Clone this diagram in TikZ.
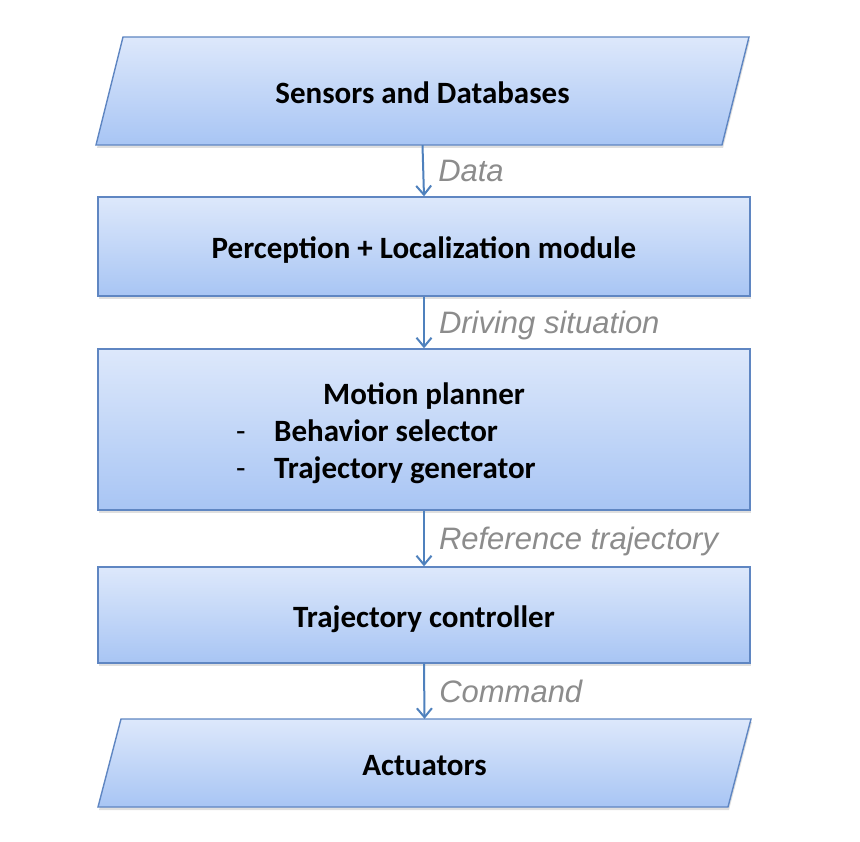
\documentclass[tikz,border=0pt]{standalone}
\usepackage{fontspec}
\setmainfont{Carlito}
\newfontfamily\flowfont{Liberation Sans}
\usetikzlibrary{arrows.meta,shadows}
\definecolor{boxtop}{HTML}{DDE8FB}
\definecolor{boxbot}{HTML}{A8C5F4}
\definecolor{boxline}{HTML}{5F86C2}
\definecolor{flowblue}{HTML}{4F81BD}
\definecolor{flowgray}{HTML}{8C8C8C}
\newcommand{\bigbold}{\fontsize{31}{37}\selectfont\bfseries}
\tikzset{
  boxfill/.style = {draw=boxline,line width=1.4pt,top color=boxtop,bottom color=boxbot,
                    drop shadow={shadow xshift=1pt,shadow yshift=-3pt,opacity=0.25}},
  stage/.style   = {boxfill,font=\bigbold,minimum width=652pt,inner sep=0pt,
                    text height=25pt,text depth=0pt},
  iotext/.style  = {font=\bigbold,minimum width=600pt,inner sep=0pt,
                    text height=25pt,text depth=0pt},
  flowarr/.style = {-{Straight Barb[length=9pt,width=15pt,line width=2pt]},flowblue,line width=2pt},
  flowlbl/.style = {right=14pt,inner sep=0pt,text=flowgray,text height=22pt,text depth=0pt,
                    font=\flowfont\itshape\fontsize{31}{37}\selectfont},
  listtxt/.style = {font=\bigbold,inner sep=0pt,anchor=base west},
  listdash/.style = {listtxt,font=\fontsize{31}{37}\selectfont}
}

\begin{document}
\begin{tikzpicture}[x=1pt,y=-1pt]
  \useasboundingbox[fill=white] (0,0) rectangle (860,842);
  % slanted input/output boxes
  \draw[boxfill] (96,145) -- (123,37) -- (749,37) -- (722,145) -- cycle;
  \draw[boxfill] (98,807) -- (121,719) -- (751,719) -- (728,807) -- cycle;
  \node[iotext,minimum height=108pt] (sensors) at (422.5,91)  {Sensors and Databases};
  \node[iotext,minimum height=88pt]  (actuate) at (424.5,763) {Actuators};
  % processing stages
  \node[stage,minimum height=99pt]  (percept) at (424,246.5)   {Perception + Localization module};
  \node[stage,minimum height=161pt] (planner) at (424,429.5)   {};
  \node[stage,minimum height=96pt]  (control) at (424,615)     {Trajectory controller};
  % planner contents
  \node[listtxt,anchor=base] (plantitle) at (424,405) {Motion planner};
  \node[listdash]            (dashA)     at (236,442) {-};
  \node[listtxt]             (behave)    at (274,442) {Behavior selector};
  \node[listdash]            (dashB)     at (236,478) {-};
  \node[listtxt]             (trajgen)   at (274,478) {Trajectory generator};
  % flow
  \draw[flowarr] (sensors.south) -- (percept.north) node[flowlbl,midway] {Data};
  \draw[flowarr] (percept.south) -- (planner.north) node[flowlbl,midway] {Driving situation};
  \draw[flowarr] (planner.south) -- (control.north) node[flowlbl,midway] {Reference trajectory};
  \draw[flowarr] (control.south) -- (actuate.north) node[flowlbl,midway] {Command};
\end{tikzpicture}
\end{document}
